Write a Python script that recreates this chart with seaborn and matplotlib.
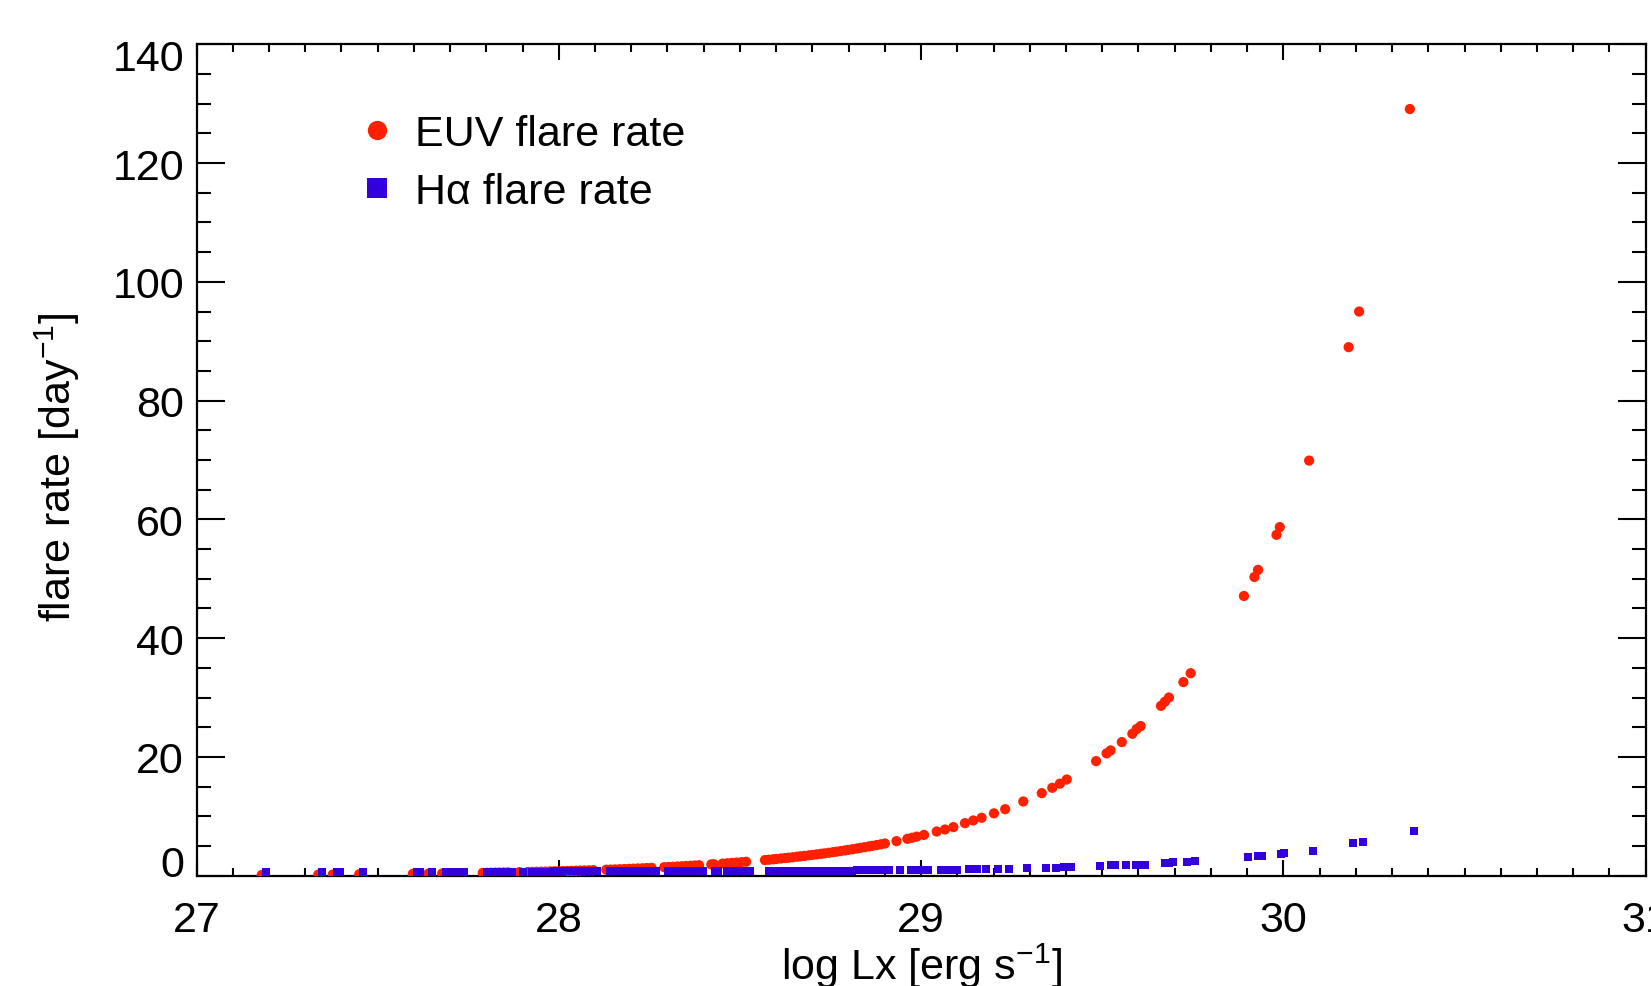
import numpy as np
import pandas as pd
import matplotlib
matplotlib.use("Agg")
import matplotlib.pyplot as plt
import seaborn as sns
from matplotlib.path import Path
from matplotlib.markers import MarkerStyle
from matplotlib.lines import Line2D
from matplotlib.ticker import MultipleLocator
from matplotlib.transforms import ScaledTranslation

# ---------------- data ----------------
log_lx = [
    27.180, 27.336, 27.376, 27.386, 27.449, 27.597, 27.607, 27.640,
    27.678, 27.690, 27.702, 27.715, 27.727,
    27.790, 27.801, 27.812, 27.824, 27.836, 27.848, 27.860,
    27.891,
    27.915, 27.927, 27.939, 27.951, 27.963, 27.975, 27.987, 27.999,
    28.011, 28.023, 28.035, 28.047, 28.059, 28.071, 28.083, 28.095,
    28.131, 28.143, 28.155, 28.168, 28.181, 28.194, 28.206, 28.218,
    28.231, 28.243, 28.256,
    28.291, 28.303, 28.315, 28.327, 28.339, 28.351, 28.363, 28.375, 28.387,
    28.421, 28.428,
    28.452, 28.465, 28.478, 28.491, 28.504, 28.517,
    28.569, 28.580, 28.592, 28.601, 28.613, 28.625, 28.634, 28.646,
    28.658, 28.667, 28.679, 28.691, 28.700, 28.712, 28.724, 28.733,
    28.745, 28.757, 28.766, 28.778, 28.790, 28.799, 28.811, 28.823,
    28.832, 28.844, 28.856, 28.865, 28.877, 28.889, 28.900,
    28.932,
    28.962, 28.975, 28.988, 29.008,
    29.043, 29.066, 29.089,
    29.121, 29.144, 29.167,
    29.201, 29.232, 29.282, 29.333, 29.362, 29.383, 29.402,
    29.483, 29.512, 29.523, 29.554, 29.583, 29.595, 29.606,
    29.662, 29.673, 29.684, 29.724, 29.744,
    29.891, 29.920, 29.930, 29.981, 29.990, 30.071, 30.180, 30.209, 30.349,
]

euv_rate = [
    0.126, 0.177, 0.194, 0.198, 0.227, 0.314, 0.321, 0.345,
    0.375, 0.384, 0.395, 0.406, 0.417,
    0.478, 0.490, 0.502, 0.515, 0.529, 0.543, 0.557,
    0.597,
    0.629, 0.646, 0.663, 0.681, 0.698, 0.717, 0.736, 0.756,
    0.776, 0.796, 0.818, 0.839, 0.862, 0.885, 0.908, 0.932,
    1.009, 1.035, 1.063, 1.094, 1.125, 1.158, 1.188, 1.220,
    1.256, 1.288, 1.326,
    1.432, 1.469, 1.508, 1.548, 1.590, 1.632, 1.675, 1.720, 1.766,
    1.902, 1.932,
    2.036, 2.094, 2.155, 2.216, 2.281, 2.347,
    2.63, 2.69, 2.77, 2.82, 2.90, 2.98, 3.03, 3.11,
    3.20, 3.26, 3.34, 3.44, 3.50, 3.60, 3.69, 3.76,
    3.86, 3.97, 4.04, 4.15, 4.26, 4.35, 4.46, 4.58,
    4.68, 4.80, 4.93, 5.03, 5.16, 5.29, 5.42,
    5.82,
    6.21, 6.39, 6.58, 6.87,
    7.44, 7.78, 8.18,
    8.85, 9.30, 9.75,
    10.5, 11.2, 12.5, 13.9, 14.8, 15.5, 16.2,
    19.3, 20.6, 21.1, 22.5, 23.9, 24.7, 25.2,
    28.6, 29.3, 30.0, 32.6, 34.1,
    47.1, 50.3, 51.5, 57.4, 58.7, 69.9, 89.0, 95.0, 129.1,
]

halpha_rate = [
    0.006, 0.008, 0.009, 0.009, 0.010, 0.014, 0.015, 0.016,
    0.017, 0.017, 0.018, 0.018, 0.019,
    0.022, 0.022, 0.023, 0.023, 0.024, 0.025, 0.025,
    0.027,
    0.029, 0.029, 0.030, 0.031, 0.032, 0.033, 0.033, 0.034,
    0.035, 0.036, 0.037, 0.038, 0.039, 0.040, 0.041, 0.042,
    0.046, 0.047, 0.048, 0.050, 0.051, 0.053, 0.054, 0.055,
    0.057, 0.059, 0.060,
    0.065, 0.067, 0.069, 0.070, 0.072, 0.074, 0.076, 0.078, 0.080,
    0.086, 0.088,
    0.093, 0.095, 0.098, 0.101, 0.104, 0.107,
    0.120, 0.122, 0.125, 0.129, 0.132, 0.135, 0.138, 0.141,
    0.145, 0.149, 0.152, 0.156, 0.160, 0.164, 0.167, 0.171,
    0.175, 0.180, 0.184, 0.189, 0.193, 0.198, 0.203, 0.208,
    0.213, 0.218, 0.224, 0.229, 0.235, 0.240, 0.246,
    0.26,
    0.28, 0.29, 0.30, 0.31,
    0.30, 0.31, 0.33,
    0.42, 0.44, 0.45,
    0.46, 0.48, 0.66, 0.68, 0.70, 0.78, 0.80,
    1.00, 1.05, 1.07, 1.08, 1.12, 1.14, 1.16,
    1.50, 1.53, 1.56, 1.70, 1.82,
    2.45, 2.60, 2.70, 3.00, 3.15, 3.52, 4.77, 5.03, 6.90,
]

x_ticks = [27, 28, 29, 30, 31]
y_ticks = [0, 20, 40, 60, 80, 100, 120, 140]
series_labels = ["EUV flare rate", "H\u03b1 flare rate"]
x_label = r"log Lx [erg s$^{-1}$]"
y_label = r"flare rate [day$^{-1}$]"

RED = "#FF2000"
BLUE = "#3300DD"
FS = 31

# ---------------- style ----------------
sns.set_theme(style="ticks")
plt.rcParams["font.family"] = ["Liberation Sans", "DejaVu Sans"]
plt.rcParams["mathtext.fontset"] = "custom"
plt.rcParams["mathtext.rm"] = "Liberation Sans"
plt.rcParams["mathtext.it"] = "Liberation Sans:italic"
plt.rcParams["mathtext.bf"] = "Liberation Sans:bold"
plt.rcParams["mathtext.sf"] = "Liberation Sans"
for key in ["text.color", "axes.labelcolor", "xtick.color", "ytick.color",
            "axes.edgecolor", "legend.labelcolor"]:
    plt.rcParams[key] = "black"

fig = plt.figure(figsize=(16.51, 9.87), dpi=100)
fig.patch.set_facecolor("white")
ax = fig.add_axes([0.11902, 0.11175, 0.87778, 0.84235])
ax.set_facecolor("white")

df = pd.DataFrame({"log_lx": log_lx, "euv": euv_rate, "halpha": halpha_rate})

sns.scatterplot(data=df, x="log_lx", y="euv", ax=ax, marker="o", s=54,
                color=RED, edgecolor="none", linewidth=0, zorder=3, legend=False)

square = MarkerStyle(Path([(0, 0), (1, 0), (1, 1), (0, 1), (0, 0)],
                          [Path.MOVETO, Path.LINETO, Path.LINETO, Path.LINETO, Path.CLOSEPOLY]))
sns.scatterplot(data=df, x="log_lx", y="halpha", ax=ax, marker=square, s=133,
                color=BLUE, edgecolor="none", linewidth=0, zorder=4, legend=False)

# ---------------- axes ----------------
ax.set_xlim(27, 31)
ax.set_ylim(0, 140)
ax.set_xticks(x_ticks)
ax.set_yticks(y_ticks)
ax.xaxis.set_minor_locator(MultipleLocator(0.1))
ax.yaxis.set_minor_locator(MultipleLocator(5))
ax.tick_params(which="both", direction="in", top=True, right=True,
               labelsize=FS, colors="black", width=1.5)
ax.tick_params(axis="x", which="major", length=11.5, pad=17.5)
ax.tick_params(axis="x", which="minor", length=6)
ax.tick_params(axis="y", which="major", length=20, pad=9)
ax.tick_params(axis="y", which="minor", length=10)
for sp in ax.spines.values():
    sp.set_visible(True)
    sp.set_linewidth(1.6)
    sp.set_color("black")
ax.grid(False)

yt = ax.yaxis.get_major_ticks()
yt[0].label1.set_va("baseline")
yt[-1].label1.set_va("top")
yt[-1].label1.set_transform(yt[-1].label1.get_transform()
                            + ScaledTranslation(0, 3.5 / 72, fig.dpi_scale_trans))

ax.set_xlabel(x_label, fontsize=FS, color="black")
ax.set_ylabel(y_label, fontsize=FS, color="black")
ax.xaxis.label.set_va("baseline")
ax.xaxis.set_label_coords(0.5, -0.1242)
ax.yaxis.set_label_coords(-0.0787, 0.492)

handles = [
    Line2D([], [], ls="none", marker="o", markersize=13.9, markerfacecolor=RED,
           markeredgewidth=0, color=RED),
    Line2D([], [], ls="none", marker="s", markersize=13.7, markerfacecolor=BLUE,
           markeredgewidth=0, color=BLUE),
]
leg = ax.legend(handles, series_labels, loc="upper left",
                bbox_to_anchor=(355 / 1651, 1 - 115 / 987), bbox_transform=fig.transFigure,
                frameon=False, fontsize=FS, handlelength=1.0, handletextpad=0.4,
                labelspacing=0.42, borderpad=0, borderaxespad=0, labelcolor="black")

fig.savefig("out.png", dpi=100, facecolor="white")
